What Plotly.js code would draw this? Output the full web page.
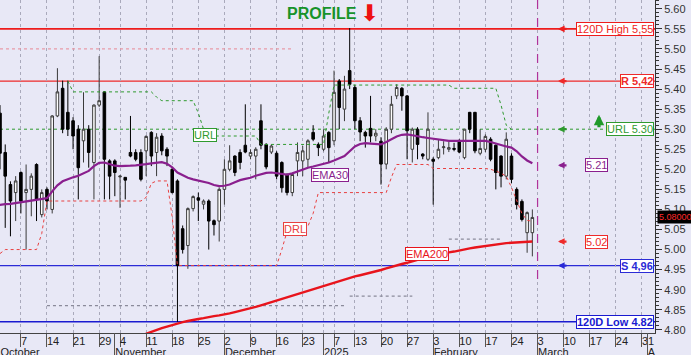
<!DOCTYPE html>
<html>
<head>
<meta charset="utf-8">
<script src="https://cdn.plot.ly/plotly-3.0.1.min.js"></script>
<style>html,body{margin:0;padding:0;background:#e8e8f6;overflow:hidden;}#wrap{width:691px;height:355px;overflow:hidden;}#chart{width:691px;height:364px;}</style>
</head>
<body>
<div id="wrap"><div id="chart"></div></div>
<script>
// ---------- DATA (trading-day index based) ----------
const idx = [];
for (let i = 0; i <= 103; i++) idx.push(i);

const opens = [5.30,5.34,5.242,5.162,5.142,5.192,5.142,5.15,5.212,5.087,5.15,5.10,5.333,5.402,5.342,5.321,5.30,5.271,5.30,5.217,
5.36,5.393,5.221,5.221,5.181,5.18,5.242,5.242,5.242,5.246,5.292,5.242,5.283,5.25,5.20,5.171,5.052,5.01,5.102,5.129,
5.113,5.121,5.072,5.071,5.15,5.20,5.233,5.242,5.26,5.233,5.233,5.321,5.262,5.243,5.24,5.217,5.187,5.142,5.221,5.221,
5.225,5.292,5.262,5.25,5.292,5.271,5.42,5.35,5.446,5.404,5.321,5.292,5.302,5.283,5.27,5.213,5.30,5.383,5.402,5.383,
5.25,5.30,5.238,5.225,5.225,5.229,5.254,5.25,5.252,5.271,5.229,5.342,5.342,5.24,5.25,5.275,5.26,5.233,5.183,5.233,
5.15,5.12,5.042,5.042];
const highs = [5.36,5.36,5.262,5.17,5.183,5.195,5.212,5.19,5.215,5.15,5.155,5.335,5.452,5.421,5.421,5.33,5.31,5.392,5.31,5.362,
5.482,5.395,5.225,5.225,5.185,5.18,5.333,5.25,5.25,5.285,5.295,5.29,5.29,5.255,5.205,5.175,5.06,5.105,5.135,5.142,
5.125,5.125,5.075,5.155,5.225,5.26,5.235,5.25,5.362,5.25,5.255,5.362,5.265,5.262,5.245,5.22,5.19,5.19,5.267,5.258,
5.275,5.31,5.267,5.30,5.295,5.446,5.425,5.433,5.552,5.41,5.33,5.296,5.383,5.30,5.28,5.305,5.383,5.412,5.405,5.385,
5.304,5.305,5.24,5.342,5.23,5.275,5.27,5.268,5.266,5.275,5.30,5.343,5.343,5.30,5.287,5.28,5.262,5.235,5.292,5.24,
5.155,5.125,5.095,5.10];
const lows = [5.27,5.20,5.054,5.033,5.071,5.09,5.0,5.083,5.071,5.08,5.10,5.09,5.33,5.29,5.283,5.25,5.125,5.217,5.204,5.125,
5.355,5.125,5.125,5.133,5.104,5.125,5.23,5.22,5.17,5.183,5.208,5.183,5.235,5.208,5.14,4.82,4.99,4.952,5.095,5.071,
5.10,5.0,5.035,5.02,5.112,5.195,5.183,5.20,5.24,5.225,5.175,5.25,5.20,5.238,5.175,5.142,5.135,5.133,5.183,5.183,
5.204,5.27,5.233,5.245,5.217,5.26,5.30,5.32,5.40,5.30,5.27,5.254,5.267,5.27,5.162,5.20,5.29,5.375,5.346,5.225,
5.217,5.225,5.225,5.221,5.112,5.225,5.237,5.243,5.245,5.24,5.225,5.29,5.24,5.235,5.243,5.22,5.15,5.155,5.175,5.165,
5.10,5.07,4.992,4.983];
const closes = [5.34,5.24,5.183,5.121,5.171,5.121,5.15,5.183,5.125,5.142,5.121,5.333,5.393,5.30,5.30,5.283,5.204,5.30,5.242,5.36,
5.371,5.225,5.183,5.192,5.183,5.173,5.233,5.225,5.175,5.282,5.233,5.28,5.246,5.233,5.142,4.96,5.0,5.102,5.132,5.123,
5.121,5.071,5.062,5.15,5.20,5.221,5.192,5.217,5.243,5.242,5.25,5.26,5.206,5.258,5.183,5.154,5.142,5.187,5.242,5.246,
5.271,5.275,5.254,5.283,5.254,5.392,5.354,5.40,5.412,5.321,5.293,5.283,5.283,5.29,5.213,5.30,5.362,5.404,5.383,5.296,
5.30,5.262,5.233,5.30,5.22,5.25,5.256,5.254,5.25,5.243,5.30,5.30,5.246,5.252,5.282,5.225,5.192,5.183,5.275,5.175,
5.112,5.075,5.092,5.08];

const ema30 = [5.11,5.112,5.113,5.114,5.116,5.118,5.119,5.121,5.123,5.125,5.128,5.145,5.16,5.17,5.176,5.18,5.184,5.19,5.196,5.208,
5.216,5.217,5.213,5.209,5.208,5.208,5.209,5.21,5.211,5.213,5.215,5.217,5.218,5.214,5.205,5.192,5.185,5.179,5.175,5.172,
5.17,5.166,5.161,5.158,5.159,5.162,5.168,5.173,5.176,5.179,5.184,5.188,5.191,5.192,5.19,5.188,5.187,5.19,5.195,5.2,
5.204,5.207,5.21,5.214,5.217,5.222,5.227,5.233,5.245,5.257,5.263,5.265,5.264,5.263,5.262,5.268,5.276,5.282,5.286,5.287,
5.285,5.282,5.28,5.278,5.276,5.274,5.272,5.271,5.271,5.271,5.272,5.272,5.271,5.271,5.271,5.268,5.264,5.26,5.257,5.254,
5.245,5.232,5.222,5.215];

const ema200 = [null,null,null,null,null,null,null,null,null,null,null,null,null,null,null,null,null,null,null,null,
null,null,null,null,null,null,null,null,4.78,4.79,4.795,4.80,4.804,4.808,4.812,4.816,4.819,4.822,4.825,4.827,
4.829,4.832,4.834,4.836,4.838,4.841,4.844,4.847,4.85,4.853,4.857,4.861,4.865,4.869,4.874,4.878,4.882,4.886,4.89,4.894,
4.898,4.902,4.906,4.910,4.914,4.918,4.922,4.926,4.93,4.933,4.936,4.939,4.942,4.946,4.949,4.953,4.957,4.961,4.964,4.967,
4.971,4.975,4.978,4.982,4.985,4.988,4.991,4.993,4.995,4.998,5.001,5.003,5.005,5.007,5.009,5.011,5.013,5.014,5.016,5.017,
5.018,5.019,5.02,5.02];

const drl = [null,4.99,5.0,5.0,5.0,5.0,5.0,5.0,5.0,5.04,5.121,5.121,5.121,5.121,5.121,5.121,5.121,5.121,5.121,5.121,
5.121,5.121,5.121,5.121,5.121,5.121,5.121,5.121,5.121,5.13,5.165,5.171,5.171,5.171,5.08,4.96,4.96,4.96,4.96,4.96,
4.96,4.96,4.96,4.96,4.96,4.96,4.96,4.96,4.96,4.96,4.96,4.96,4.96,4.96,4.96,5.0,5.045,5.05,5.05,5.055,
5.058,5.09,5.142,5.142,5.142,5.142,5.142,5.142,5.142,5.142,5.142,5.142,5.142,5.142,5.142,5.142,5.18,5.212,5.212,5.212,
5.212,5.212,5.212,5.212,5.202,5.202,5.202,5.202,5.202,5.202,5.202,5.202,5.202,5.202,5.202,5.2,5.196,5.19,5.183,5.155,
5.12,5.09,5.073,5.07];

const url = [null,null,null,null,null,null,null,null,null,null,null,null,null,null,5.42,5.393,5.393,5.393,5.393,5.393,
5.393,5.393,5.393,5.393,5.393,5.393,5.393,5.393,5.393,5.393,5.393,5.38,5.371,5.371,5.371,5.371,5.371,5.371,5.371,5.34,
5.30,5.29,5.283,5.283,5.283,5.283,5.283,5.283,5.283,5.283,5.283,5.262,5.262,5.262,5.262,5.262,5.262,5.262,5.262,5.262,
5.262,5.262,5.262,5.262,5.34,5.41,5.41,5.41,5.41,5.41,5.41,5.41,5.41,5.41,5.41,5.41,5.41,5.41,5.41,5.41,
5.41,5.41,5.41,5.41,5.41,5.41,5.41,5.41,5.402,5.402,5.402,5.402,5.402,5.402,5.402,5.402,5.402,5.36,5.31,5.30];

// profile segments: level, start index, end index
const segLevels = [5.50, 4.86, 4.884, 5.026];
const segStart  = [1, 10, 68, 87];
const segEnd    = [57, 67, 80, 97];

// horizontal levels
const levelNames  = ['120D High 5,55', 'R 5,42', 'URL 5.30', 'S 4,96', '120D Low 4.82'];
const levelValues = [5.55, 5.42, 5.30, 4.96, 4.82];

// last indicator values shown at right
const lastLabels = ['5.21', '5.02'];
const lastValues = [5.21, 5.02];
const lastPrice = 5.08;
const lastPriceText = '5.08000';

const todayIdx = 104;
const todayLow = 4.917;

// axis ticks
const dayTickIdx  = [5,10,15,20,24,29,34,39,44,49,54,59,65,69,74,79,84,89,94,99,104,109,114,119,124];
const dayTickText = ['7','14','21','29','4','11','18','25','2','9','16','23','7','13','20','27','3','10','17','24','3','10','17','24','31'];
const monthIdx  = [1,23,44,63,84,104,125];
const monthText = ['October','November','December','2025','February','March','A'];

// ---------- STYLE ----------
const BG = '#e8e8f6';
const FONT = 'Liberation Sans, Arial, sans-serif';
const H = 364;            // figure is slightly taller than the window; bottom row is cut like the original
const PLOT_H = 333;
const levelStyle = {
  '120D High 5,55': {color:'#ee1c1c', width:1.6, dash:'solid', bold:false, arrow:true},
  'R 5,42':         {color:'#ee2a2a', width:1.2, dash:'solid', bold:true, arrow:true},
  'URL 5.30':       {color:'#2f9a2f', width:1,   dash:'dot',   bold:false, arrow:true},
  'S 4,96':         {color:'#2b2bd6', width:1.4, dash:'solid', bold:true, arrow:true},
  '120D Low 4.82':  {color:'#1a1ad0', width:1.6, dash:'solid', bold:true, arrow:false}
};
const XR = [1, 126.5];

// ---------- TRACES ----------
const traces = [];
segLevels.forEach((lv, k) => {
  traces.push({type:'scatter', mode:'lines', x:[segStart[k], segEnd[k]], y:[lv, lv],
    line:{color: k === 0 ? '#e79aa8' : '#8a8a9a', width:1.2, dash:'dot'}, hoverinfo:'skip', showlegend:false});
});
traces.push({type:'scatter', mode:'lines', x:idx, y:url, line:{color:'#2f9a2f', width:1, dash:'dot'}, hoverinfo:'skip', showlegend:false});
traces.push({type:'scatter', mode:'lines', x:idx, y:drl, line:{color:'#e84040', width:1, dash:'dot'}, hoverinfo:'skip', showlegend:false});
traces.push({type:'candlestick', x:idx, open:opens, high:highs, low:lows, close:closes,
  increasing:{line:{color:'#3a3a3a', width:1}, fillcolor:'#ffffff'},
  decreasing:{line:{color:'#000000', width:1}, fillcolor:'#000000'},
  whiskerwidth:0, hoverinfo:'skip', showlegend:false});
traces.push({type:'scatter', mode:'lines', x:idx, y:ema30, line:{color:'#8a1f8e', width:2.2}, hoverinfo:'skip', showlegend:false});
traces.push({type:'scatter', mode:'lines', x:idx, y:ema200, line:{color:'#e8141c', width:2.4}, hoverinfo:'skip', showlegend:false});
// helper traces so the overlay axes are drawn
traces.push({type:'scatter', mode:'markers', x:[dayTickIdx[0]], y:[5.0], xaxis:'x2', marker:{opacity:0}, hoverinfo:'skip', showlegend:false});
traces.push({type:'scatter', mode:'markers', x:[monthIdx[1]], y:[5.0], xaxis:'x3', marker:{opacity:0}, hoverinfo:'skip', showlegend:false});

// ---------- SHAPES ----------
const shapes = [];
levelNames.forEach((n, k) => {
  const s = levelStyle[n];
  shapes.push({type:'line', xref:'paper', yref:'y', x0:0, x1:1, y0:levelValues[k], y1:levelValues[k],
    line:{color:s.color, width:s.width, dash:s.dash}, layer:'below'});
});
shapes.push({type:'line', xref:'x', yref:'y', x0:todayIdx, x1:todayIdx, y0:5.622, y1:todayLow,
  line:{color:'#b0339a', width:1.2, dash:'dash'}, layer:'above'});

// ---------- ANNOTATIONS ----------
const ann = [];
levelNames.forEach((n, k) => {
  const s = levelStyle[n];
  ann.push({xref:'paper', yref:'y', x:1, y:levelValues[k], xanchor:'right', yanchor:'middle', xshift:-1,
    text: s.bold ? '<b>'+n+'</b>' : n, showarrow:false, font:{family:FONT, size:11, color:s.color},
    bgcolor:'#ffffff', bordercolor:s.color, borderwidth:1, borderpad:0});
  if (s.arrow) ann.push({xref:'paper', yref:'y', x:558/655, y:levelValues[k], ax:10, ay:0, text:'',
    showarrow:true, arrowhead:2, arrowsize:0.6, arrowwidth:2.2, arrowcolor:s.color});
});
const lastColors = ['#8a1f8e', '#ee2a2a'];
lastLabels.forEach((t, k) => {
  ann.push({xref:'paper', yref:'y', x:596.5/655, y:lastValues[k], xanchor:'center', yanchor:'middle',
    text:t, showarrow:false, font:{family:FONT, size:11, color:lastColors[k]},
    bgcolor:'#ffffff', bordercolor:lastColors[k], borderwidth:1, borderpad:0});
  ann.push({xref:'paper', yref:'y', x:558/655, y:lastValues[k], ax:10, ay:0, text:'',
    showarrow:true, arrowhead:2, arrowsize:0.6, arrowwidth:2.2, arrowcolor:lastColors[k]});
});
// green up arrow
ann.push({xref:'paper', yref:'y', x:599/655, y:5.336, ax:0, ay:14, text:'', showarrow:true,
  arrowhead:2, arrowsize:0.65, arrowwidth:3.2, arrowcolor:'#1f9a2a'});
// last price box
ann.push({xref:'paper', yref:'y', x:1, y:lastPrice, xanchor:'left', yanchor:'middle', xshift:2,
  text:lastPriceText, showarrow:false, font:{family:FONT, size:9, color:'#ff2a2a'}, bgcolor:'#000000', borderpad:1});
// indicator name tags
const tags = [
  {t:'URL', x:40.3, y:5.286, c:'#2f9a2f'},
  {t:'EMA30', x:64.2, y:5.187, c:'#8a1f8e'},
  {t:'DRL', x:57.5, y:5.051, c:'#e84040'},
  {t:'EMA200', x:82.8, y:4.989, c:'#e8141c'}
];
tags.forEach(g => ann.push({xref:'x', yref:'y', x:g.x, y:g.y, text:g.t, showarrow:false,
  font:{family:FONT, size:11, color:g.c}, bgcolor:'#ffffff', bordercolor:g.c, borderwidth:1, borderpad:0}));
// PROFILE
ann.push({xref:'paper', yref:'paper', x:322/655, y:1-14/H, xanchor:'center', yanchor:'middle', text:'<b>PROFILE</b>', showarrow:false,
  font:{family:FONT, size:16, color:'#17932a'}});
ann.push({xref:'paper', yref:'paper', x:369/655, y:1-13/H, xanchor:'center', yanchor:'middle', text:'⬇', showarrow:false,
  font:{family:'DejaVu Sans', size:23, color:'#ee1111'}});

// ---------- LAYOUT ----------
const layout = {
  width:691, height:H, margin:{l:0, r:36, t:0, b:0},
  paper_bgcolor:BG, plot_bgcolor:BG, showlegend:false, hovermode:false,
  font:{family:FONT, size:11, color:'#222'},
  xaxis:{range:XR, tickmode:'array', tickvals:dayTickIdx.concat([63]), showticklabels:false,
    ticks:'outside', ticklen:13, tickcolor:'#555', tickwidth:1,
    showgrid:true, gridcolor:'#a9a9bb', griddash:'dot', gridwidth:1,
    showline:true, linecolor:'#444', linewidth:1, zeroline:false, rangeslider:{visible:false}, fixedrange:true},
  xaxis2:{overlaying:'x', anchor:'y', range:XR, tickmode:'array', tickvals:dayTickIdx, ticktext:dayTickText,
    ticks:'', ticklabelposition:'outside right', showgrid:false, zeroline:false, showline:false,
    tickfont:{family:FONT, size:11, color:'#222'}, fixedrange:true},
  xaxis3:{overlaying:'x', anchor:'free', position:0, range:XR, tickmode:'array', tickvals:monthIdx, ticktext:monthText,
    ticks:'inside', ticklen:H-PLOT_H, tickcolor:'#555', ticklabelposition:'inside right', ticklabeloverflow:'allow',
    showgrid:false, zeroline:false, showline:false,
    tickfont:{family:FONT, size:11, color:'#222'}, fixedrange:true},
  yaxis:{domain:[(H-PLOT_H)/H, 1], range:[4.792, 5.622], side:'right', tickmode:'linear', tick0:4.8, dtick:0.05,
    tickformat:'.2f', ticks:'outside', ticklen:6, tickcolor:'#333', showline:true, linecolor:'#333',
    showgrid:false, zeroline:false, tickfont:{family:FONT, size:11, color:'#333'},
    minor:{dtick:0.01, ticks:'outside', ticklen:3, tickcolor:'#333', showgrid:false}, fixedrange:true},
  shapes:shapes, annotations:ann
};

Plotly.newPlot('chart', traces, layout, {displayModeBar:false, staticPlot:true});
</script>
</body>
</html>
